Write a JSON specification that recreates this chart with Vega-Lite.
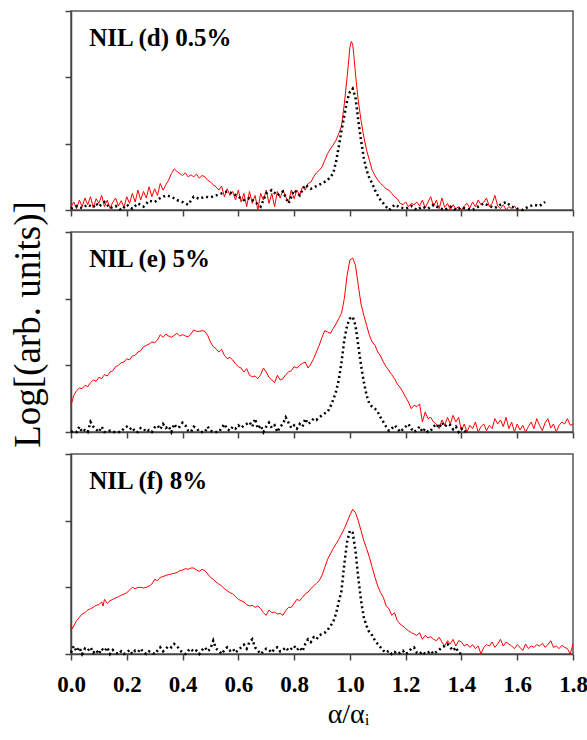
{
"$schema": "https://vega.github.io/schema/vega-lite/v6.json",
"background": "white",
"padding": {"left": 8, "top": 9, "right": 5, "bottom": 5},
"spacing": 22,
"bounds": "flush",
"config": {
 "view": {"stroke": "#555", "strokeWidth": 1.5},
 "axis": {"domainColor": "#444", "domainWidth": 1.5, "tickColor": "#444", "tickWidth": 1.5, "grid": false, "labelFont": "Liberation Serif", "labelFontWeight": "bold", "labelFontSize": 23, "labelColor": "black", "labelFlush": false, "titleFont": "Liberation Serif", "titleFontWeight": "normal", "titleColor": "black"}
},
"datasets": {
 "dr": [{"x":0,"y":0.05},{"x":0.01,"y":0.12},{"x":0.02,"y":0.02},{"x":0.03,"y":0.15},{"x":0.04,"y":0.05},{"x":0.05,"y":0.18},{"x":0.06,"y":0.08},{"x":0.07,"y":0.2},{"x":0.08,"y":0.03},{"x":0.09,"y":0.17},{"x":0.1,"y":0.1},{"x":0.11,"y":0.22},{"x":0.12,"y":0.05},{"x":0.13,"y":0.15},{"x":0.14,"y":0.02},{"x":0.15,"y":0.12},{"x":0.16,"y":0.18},{"x":0.17,"y":0.06},{"x":0.18,"y":0.14},{"x":0.19,"y":0.04},{"x":0.2,"y":0.2},{"x":0.21,"y":0.1},{"x":0.22,"y":0.25},{"x":0.23,"y":0.12},{"x":0.24,"y":0.3},{"x":0.25,"y":0.15},{"x":0.26,"y":0.28},{"x":0.27,"y":0.18},{"x":0.28,"y":0.35},{"x":0.29,"y":0.2},{"x":0.3,"y":0.32},{"x":0.31,"y":0.22},{"x":0.32,"y":0.4},{"x":0.33,"y":0.3},{"x":0.34,"y":0.38},{"x":0.35,"y":0.45},{"x":0.36,"y":0.55},{"x":0.37,"y":0.62},{"x":0.38,"y":0.58},{"x":0.39,"y":0.55},{"x":0.4,"y":0.52},{"x":0.41,"y":0.56},{"x":0.42,"y":0.5},{"x":0.43,"y":0.53},{"x":0.44,"y":0.5},{"x":0.45,"y":0.54},{"x":0.46,"y":0.48},{"x":0.47,"y":0.52},{"x":0.48,"y":0.5},{"x":0.49,"y":0.45},{"x":0.5,"y":0.42},{"x":0.51,"y":0.38},{"x":0.52,"y":0.35},{"x":0.53,"y":0.3},{"x":0.54,"y":0.36},{"x":0.55,"y":0.2},{"x":0.56,"y":0.32},{"x":0.57,"y":0.22},{"x":0.58,"y":0.28},{"x":0.59,"y":0.15},{"x":0.6,"y":0.3},{"x":0.61,"y":0.12},{"x":0.62,"y":0.25},{"x":0.63,"y":0.05},{"x":0.64,"y":0.28},{"x":0.65,"y":0.1},{"x":0.66,"y":0.22},{"x":0.67,"y":0},{"x":0.68,"y":0.25},{"x":0.69,"y":0.15},{"x":0.7,"y":0.3},{"x":0.71,"y":0.1},{"x":0.72,"y":0.25},{"x":0.73,"y":0.05},{"x":0.74,"y":0.28},{"x":0.75,"y":0.18},{"x":0.76,"y":0.3},{"x":0.77,"y":0.2},{"x":0.78,"y":0.12},{"x":0.79,"y":0.3},{"x":0.8,"y":0.17},{"x":0.81,"y":0.3},{"x":0.82,"y":0.22},{"x":0.83,"y":0.35},{"x":0.84,"y":0.3},{"x":0.85,"y":0.4},{"x":0.86,"y":0.42},{"x":0.87,"y":0.5},{"x":0.88,"y":0.56},{"x":0.89,"y":0.6},{"x":0.9,"y":0.65},{"x":0.91,"y":0.75},{"x":0.92,"y":0.85},{"x":0.93,"y":0.92},{"x":0.94,"y":0.98},{"x":0.95,"y":1.05},{"x":0.96,"y":1.15},{"x":0.97,"y":1.27},{"x":0.98,"y":1.6},{"x":0.99,"y":2.0},{"x":1.0,"y":2.45},{"x":1.005,"y":2.54},{"x":1.01,"y":2.5},{"x":1.015,"y":2.3},{"x":1.02,"y":2.05},{"x":1.03,"y":1.65},{"x":1.04,"y":1.35},{"x":1.05,"y":1.1},{"x":1.06,"y":0.9},{"x":1.07,"y":0.75},{"x":1.08,"y":0.6},{"x":1.09,"y":0.52},{"x":1.1,"y":0.45},{"x":1.11,"y":0.4},{"x":1.12,"y":0.36},{"x":1.13,"y":0.32},{"x":1.14,"y":0.3},{"x":1.15,"y":0.25},{"x":1.16,"y":0.2},{"x":1.17,"y":0.17},{"x":1.18,"y":0.1},{"x":1.19,"y":0.08},{"x":1.2,"y":0.12},{"x":1.21,"y":0.05},{"x":1.22,"y":0.1},{"x":1.23,"y":0.08},{"x":1.24,"y":0.12},{"x":1.25,"y":0.06},{"x":1.26,"y":0.15},{"x":1.27,"y":0.03},{"x":1.28,"y":0.12},{"x":1.29,"y":0.2},{"x":1.3,"y":0.05},{"x":1.31,"y":0.15},{"x":1.32,"y":0.02},{"x":1.33,"y":0.18},{"x":1.34,"y":0.04},{"x":1.35,"y":0.1},{"x":1.36,"y":0},{"x":1.37,"y":0.08},{"x":1.38,"y":0.02},{"x":1.39,"y":0.05},{"x":1.4,"y":0},{"x":1.41,"y":0.06},{"x":1.42,"y":0.1},{"x":1.43,"y":0.03},{"x":1.44,"y":0.12},{"x":1.45,"y":0.05},{"x":1.46,"y":0.15},{"x":1.47,"y":0.08},{"x":1.48,"y":0.12},{"x":1.49,"y":0.18},{"x":1.5,"y":0.05},{"x":1.51,"y":0.1},{"x":1.52,"y":0.22},{"x":1.53,"y":0.06},{"x":1.54,"y":0.02},{"x":1.55,"y":0.08},{"x":1.56,"y":0},{"x":1.57,"y":0.05},{"x":1.58,"y":0.02},{"x":1.59,"y":0.06},{"x":1.6,"y":0}],
 "dk": [{"x":0,"y":0.02},{"x":0.02,"y":0.06},{"x":0.04,"y":0.03},{"x":0.06,"y":0.08},{"x":0.08,"y":0.04},{"x":0.09,"y":0.1},{"x":0.1,"y":0.05},{"x":0.12,"y":0.12},{"x":0.14,"y":0.03},{"x":0.16,"y":0.06},{"x":0.18,"y":0},{"x":0.2,"y":0.08},{"x":0.22,"y":0.02},{"x":0.24,"y":0.1},{"x":0.26,"y":0.05},{"x":0.28,"y":0.14},{"x":0.3,"y":0.12},{"x":0.32,"y":0.18},{"x":0.34,"y":0.22},{"x":0.36,"y":0.2},{"x":0.38,"y":0.15},{"x":0.4,"y":0.12},{"x":0.42,"y":0.08},{"x":0.44,"y":0.2},{"x":0.46,"y":0.17},{"x":0.48,"y":0.2},{"x":0.5,"y":0.19},{"x":0.52,"y":0.22},{"x":0.54,"y":0.25},{"x":0.56,"y":0.28},{"x":0.58,"y":0.25},{"x":0.6,"y":0.2},{"x":0.62,"y":0.15},{"x":0.64,"y":0.18},{"x":0.66,"y":0.12},{"x":0.68,"y":0.05},{"x":0.7,"y":0.25},{"x":0.72,"y":0.3},{"x":0.74,"y":0.22},{"x":0.76,"y":0.28},{"x":0.78,"y":0.1},{"x":0.8,"y":0.3},{"x":0.82,"y":0.22},{"x":0.84,"y":0.38},{"x":0.86,"y":0.32},{"x":0.88,"y":0.36},{"x":0.9,"y":0.4},{"x":0.92,"y":0.45},{"x":0.94,"y":0.55},{"x":0.95,"y":0.72},{"x":0.96,"y":0.95},{"x":0.97,"y":1.2},{"x":0.98,"y":1.42},{"x":0.99,"y":1.65},{"x":1.0,"y":1.78},{"x":1.01,"y":1.83},{"x":1.02,"y":1.7},{"x":1.03,"y":1.35},{"x":1.04,"y":1.05},{"x":1.05,"y":0.78},{"x":1.06,"y":0.6},{"x":1.07,"y":0.48},{"x":1.08,"y":0.4},{"x":1.09,"y":0.3},{"x":1.1,"y":0.22},{"x":1.11,"y":0.15},{"x":1.12,"y":0.1},{"x":1.13,"y":0.05},{"x":1.14,"y":0},{"x":1.15,"y":0.03},{"x":1.16,"y":0.08},{"x":1.18,"y":0.04},{"x":1.2,"y":0.02},{"x":1.22,"y":0.06},{"x":1.24,"y":0},{"x":1.26,"y":0.05},{"x":1.28,"y":0.02},{"x":1.3,"y":0.08},{"x":1.32,"y":0.03},{"x":1.34,"y":0},{"x":1.36,"y":0.05},{"x":1.38,"y":0},{"x":1.4,"y":0.04},{"x":1.42,"y":0.02},{"x":1.44,"y":0},{"x":1.46,"y":0.05},{"x":1.48,"y":0.1},{"x":1.5,"y":0.06},{"x":1.52,"y":0.03},{"x":1.54,"y":0.08},{"x":1.56,"y":0.12},{"x":1.58,"y":0.05},{"x":1.6,"y":0.02},{"x":1.62,"y":0},{"x":1.64,"y":0.05},{"x":1.66,"y":0.08},{"x":1.68,"y":0.06},{"x":1.7,"y":0.12}],
 "er": [{"x":0,"y":0.4},{"x":0.01,"y":0.55},{"x":0.02,"y":0.62},{"x":0.03,"y":0.66},{"x":0.04,"y":0.65},{"x":0.05,"y":0.7},{"x":0.06,"y":0.68},{"x":0.07,"y":0.74},{"x":0.08,"y":0.78},{"x":0.09,"y":0.76},{"x":0.1,"y":0.82},{"x":0.11,"y":0.8},{"x":0.12,"y":0.86},{"x":0.13,"y":0.84},{"x":0.14,"y":0.9},{"x":0.15,"y":0.92},{"x":0.16,"y":0.98},{"x":0.17,"y":1.0},{"x":0.18,"y":1.04},{"x":0.19,"y":1.05},{"x":0.2,"y":1.1},{"x":0.21,"y":1.08},{"x":0.22,"y":1.14},{"x":0.23,"y":1.15},{"x":0.24,"y":1.2},{"x":0.25,"y":1.22},{"x":0.26,"y":1.28},{"x":0.27,"y":1.3},{"x":0.28,"y":1.32},{"x":0.29,"y":1.35},{"x":0.3,"y":1.34},{"x":0.31,"y":1.38},{"x":0.32,"y":1.46},{"x":0.33,"y":1.42},{"x":0.34,"y":1.47},{"x":0.35,"y":1.44},{"x":0.36,"y":1.42},{"x":0.37,"y":1.45},{"x":0.38,"y":1.48},{"x":0.39,"y":1.44},{"x":0.4,"y":1.46},{"x":0.41,"y":1.44},{"x":0.42,"y":1.43},{"x":0.43,"y":1.47},{"x":0.44,"y":1.53},{"x":0.45,"y":1.51},{"x":0.46,"y":1.51},{"x":0.47,"y":1.52},{"x":0.48,"y":1.51},{"x":0.49,"y":1.45},{"x":0.5,"y":1.35},{"x":0.51,"y":1.28},{"x":0.52,"y":1.25},{"x":0.53,"y":1.2},{"x":0.54,"y":1.24},{"x":0.55,"y":1.15},{"x":0.56,"y":1.1},{"x":0.57,"y":1.12},{"x":0.58,"y":1.08},{"x":0.59,"y":1.02},{"x":0.6,"y":0.98},{"x":0.61,"y":0.96},{"x":0.62,"y":0.9},{"x":0.63,"y":0.95},{"x":0.64,"y":0.85},{"x":0.65,"y":0.83},{"x":0.66,"y":0.84},{"x":0.67,"y":0.8},{"x":0.68,"y":0.86},{"x":0.69,"y":0.96},{"x":0.7,"y":0.9},{"x":0.71,"y":0.82},{"x":0.72,"y":0.78},{"x":0.73,"y":0.74},{"x":0.74,"y":0.85},{"x":0.75,"y":0.78},{"x":0.76,"y":0.8},{"x":0.77,"y":0.86},{"x":0.78,"y":0.9},{"x":0.79,"y":0.92},{"x":0.8,"y":0.98},{"x":0.81,"y":0.96},{"x":0.82,"y":1.0},{"x":0.83,"y":1.03},{"x":0.84,"y":1.05},{"x":0.85,"y":0.96},{"x":0.86,"y":1.02},{"x":0.87,"y":1.1},{"x":0.88,"y":1.2},{"x":0.89,"y":1.3},{"x":0.9,"y":1.42},{"x":0.91,"y":1.52},{"x":0.92,"y":1.5},{"x":0.93,"y":1.48},{"x":0.94,"y":1.55},{"x":0.95,"y":1.62},{"x":0.96,"y":1.7},{"x":0.97,"y":1.78},{"x":0.98,"y":2.0},{"x":0.99,"y":2.35},{"x":1.0,"y":2.58},{"x":1.01,"y":2.61},{"x":1.02,"y":2.5},{"x":1.03,"y":2.2},{"x":1.04,"y":1.92},{"x":1.05,"y":1.75},{"x":1.06,"y":1.6},{"x":1.07,"y":1.45},{"x":1.08,"y":1.35},{"x":1.09,"y":1.3},{"x":1.1,"y":1.2},{"x":1.11,"y":1.14},{"x":1.12,"y":1.05},{"x":1.13,"y":0.98},{"x":1.14,"y":0.92},{"x":1.15,"y":0.86},{"x":1.16,"y":0.8},{"x":1.17,"y":0.72},{"x":1.18,"y":0.67},{"x":1.19,"y":0.6},{"x":1.2,"y":0.52},{"x":1.21,"y":0.45},{"x":1.22,"y":0.35},{"x":1.23,"y":0.4},{"x":1.24,"y":0.38},{"x":1.25,"y":0.42},{"x":1.26,"y":0.15},{"x":1.27,"y":0.3},{"x":1.28,"y":0.2},{"x":1.29,"y":0.22},{"x":1.3,"y":0.15},{"x":1.31,"y":0.12},{"x":1.32,"y":0.05},{"x":1.33,"y":0.18},{"x":1.34,"y":0.1},{"x":1.35,"y":0.22},{"x":1.36,"y":0.12},{"x":1.37,"y":0.25},{"x":1.38,"y":0.15},{"x":1.39,"y":0.22},{"x":1.4,"y":0.02},{"x":1.41,"y":0.12},{"x":1.42,"y":0},{"x":1.43,"y":0.1},{"x":1.44,"y":0.05},{"x":1.45,"y":0.15},{"x":1.46,"y":0},{"x":1.47,"y":0.08},{"x":1.48,"y":0.12},{"x":1.49,"y":0.02},{"x":1.5,"y":0.1},{"x":1.51,"y":0.05},{"x":1.52,"y":0.2},{"x":1.53,"y":0.12},{"x":1.54,"y":0.18},{"x":1.55,"y":0.08},{"x":1.56,"y":0.22},{"x":1.57,"y":0.05},{"x":1.58,"y":0.15},{"x":1.59,"y":0},{"x":1.6,"y":0.12},{"x":1.61,"y":0.03},{"x":1.62,"y":0.1},{"x":1.63,"y":0},{"x":1.64,"y":0.08},{"x":1.65,"y":0.15},{"x":1.66,"y":0.05},{"x":1.67,"y":0.2},{"x":1.68,"y":0.1},{"x":1.69,"y":0.02},{"x":1.7,"y":0.14},{"x":1.71,"y":0.2},{"x":1.72,"y":0.06},{"x":1.73,"y":0.12},{"x":1.74,"y":0},{"x":1.75,"y":0.1},{"x":1.76,"y":0.15},{"x":1.77,"y":0.12},{"x":1.78,"y":0.2},{"x":1.79,"y":0.1},{"x":1.8,"y":0.12}],
 "ek": [{"x":0,"y":0},{"x":0.01,"y":0.02},{"x":0.02,"y":0},{"x":0.03,"y":0.08},{"x":0.04,"y":0},{"x":0.05,"y":0.03},{"x":0.06,"y":0},{"x":0.07,"y":0.15},{"x":0.08,"y":0.08},{"x":0.09,"y":0.04},{"x":0.1,"y":0},{"x":0.11,"y":0.08},{"x":0.12,"y":0},{"x":0.13,"y":0},{"x":0.14,"y":0.02},{"x":0.15,"y":0},{"x":0.16,"y":0},{"x":0.17,"y":0},{"x":0.18,"y":0},{"x":0.19,"y":0.06},{"x":0.2,"y":0.08},{"x":0.21,"y":0.04},{"x":0.22,"y":0.07},{"x":0.23,"y":0},{"x":0.24,"y":0},{"x":0.25,"y":0.06},{"x":0.26,"y":0.05},{"x":0.27,"y":0},{"x":0.28,"y":0.03},{"x":0.29,"y":0},{"x":0.3,"y":0.07},{"x":0.31,"y":0.1},{"x":0.32,"y":0.04},{"x":0.33,"y":0.12},{"x":0.34,"y":0.06},{"x":0.35,"y":0.09},{"x":0.36,"y":0},{"x":0.37,"y":0.12},{"x":0.38,"y":0.06},{"x":0.39,"y":0.08},{"x":0.4,"y":0.14},{"x":0.41,"y":0.1},{"x":0.42,"y":0.02},{"x":0.43,"y":0},{"x":0.44,"y":0.08},{"x":0.45,"y":0.06},{"x":0.46,"y":0},{"x":0.47,"y":0},{"x":0.48,"y":0},{"x":0.49,"y":0.08},{"x":0.5,"y":0.02},{"x":0.51,"y":0},{"x":0.52,"y":0},{"x":0.53,"y":0},{"x":0.54,"y":0.06},{"x":0.55,"y":0.12},{"x":0.56,"y":0.04},{"x":0.57,"y":0.02},{"x":0.58,"y":0.08},{"x":0.59,"y":0.05},{"x":0.6,"y":0.1},{"x":0.61,"y":0.06},{"x":0.62,"y":0.1},{"x":0.63,"y":0.12},{"x":0.64,"y":0.15},{"x":0.65,"y":0.08},{"x":0.66,"y":0.2},{"x":0.67,"y":0.05},{"x":0.68,"y":0.1},{"x":0.69,"y":0},{"x":0.7,"y":0.08},{"x":0.71,"y":0.14},{"x":0.72,"y":0.06},{"x":0.73,"y":0.1},{"x":0.74,"y":0},{"x":0.75,"y":0.08},{"x":0.76,"y":0.12},{"x":0.77,"y":0.22},{"x":0.78,"y":0.14},{"x":0.79,"y":0.06},{"x":0.8,"y":0.1},{"x":0.81,"y":0.05},{"x":0.82,"y":0.12},{"x":0.83,"y":0.08},{"x":0.84,"y":0.2},{"x":0.85,"y":0.12},{"x":0.86,"y":0.15},{"x":0.87,"y":0.2},{"x":0.88,"y":0.18},{"x":0.89,"y":0.22},{"x":0.9,"y":0.25},{"x":0.91,"y":0.28},{"x":0.92,"y":0.3},{"x":0.93,"y":0.38},{"x":0.94,"y":0.48},{"x":0.95,"y":0.6},{"x":0.96,"y":0.78},{"x":0.97,"y":1.05},{"x":0.98,"y":1.38},{"x":0.99,"y":1.6},{"x":1.0,"y":1.7},{"x":1.01,"y":1.73},{"x":1.02,"y":1.6},{"x":1.03,"y":1.3},{"x":1.04,"y":1.0},{"x":1.05,"y":0.75},{"x":1.06,"y":0.55},{"x":1.07,"y":0.42},{"x":1.08,"y":0.38},{"x":1.09,"y":0.35},{"x":1.1,"y":0.3},{"x":1.11,"y":0.22},{"x":1.12,"y":0.15},{"x":1.13,"y":0.08},{"x":1.14,"y":0.02},{"x":1.15,"y":0.05},{"x":1.16,"y":0.1},{"x":1.17,"y":0.06},{"x":1.18,"y":0},{"x":1.19,"y":0.04},{"x":1.2,"y":0.08},{"x":1.21,"y":0.12},{"x":1.22,"y":0.05},{"x":1.23,"y":0},{"x":1.24,"y":0.03},{"x":1.25,"y":0.08},{"x":1.26,"y":0},{"x":1.27,"y":0.05},{"x":1.28,"y":0},{"x":1.29,"y":0.02},{"x":1.3,"y":0.08},{"x":1.31,"y":0.12},{"x":1.32,"y":0.06},{"x":1.33,"y":0.14},{"x":1.34,"y":0.08},{"x":1.35,"y":0.12},{"x":1.36,"y":0.1},{"x":1.37,"y":0.04},{"x":1.38,"y":0.08},{"x":1.39,"y":0},{"x":1.4,"y":0.05},{"x":1.41,"y":0},{"x":1.42,"y":0.02}],
 "fr": [{"x":0,"y":0.45},{"x":0.005,"y":0.38},{"x":0.01,"y":0.42},{"x":0.02,"y":0.5},{"x":0.03,"y":0.55},{"x":0.04,"y":0.6},{"x":0.05,"y":0.62},{"x":0.06,"y":0.66},{"x":0.07,"y":0.68},{"x":0.08,"y":0.7},{"x":0.09,"y":0.73},{"x":0.1,"y":0.74},{"x":0.11,"y":0.78},{"x":0.115,"y":0.72},{"x":0.12,"y":0.82},{"x":0.13,"y":0.76},{"x":0.14,"y":0.8},{"x":0.15,"y":0.82},{"x":0.16,"y":0.84},{"x":0.17,"y":0.86},{"x":0.18,"y":0.88},{"x":0.19,"y":0.9},{"x":0.2,"y":0.92},{"x":0.21,"y":0.96},{"x":0.22,"y":1.0},{"x":0.23,"y":0.98},{"x":0.24,"y":1.0},{"x":0.25,"y":1.0},{"x":0.26,"y":0.99},{"x":0.27,"y":1.0},{"x":0.28,"y":1.02},{"x":0.29,"y":1.05},{"x":0.3,"y":1.12},{"x":0.31,"y":1.1},{"x":0.32,"y":1.15},{"x":0.33,"y":1.16},{"x":0.34,"y":1.18},{"x":0.35,"y":1.19},{"x":0.36,"y":1.2},{"x":0.37,"y":1.21},{"x":0.38,"y":1.22},{"x":0.39,"y":1.25},{"x":0.4,"y":1.26},{"x":0.41,"y":1.28},{"x":0.42,"y":1.27},{"x":0.43,"y":1.29},{"x":0.44,"y":1.29},{"x":0.45,"y":1.26},{"x":0.46,"y":1.24},{"x":0.47,"y":1.27},{"x":0.48,"y":1.25},{"x":0.49,"y":1.2},{"x":0.5,"y":1.15},{"x":0.51,"y":1.12},{"x":0.52,"y":1.08},{"x":0.53,"y":1.05},{"x":0.54,"y":1.02},{"x":0.55,"y":0.98},{"x":0.56,"y":0.95},{"x":0.57,"y":0.92},{"x":0.58,"y":0.9},{"x":0.59,"y":0.86},{"x":0.6,"y":0.82},{"x":0.61,"y":0.8},{"x":0.62,"y":0.78},{"x":0.63,"y":0.74},{"x":0.64,"y":0.72},{"x":0.65,"y":0.73},{"x":0.66,"y":0.7},{"x":0.67,"y":0.72},{"x":0.68,"y":0.68},{"x":0.69,"y":0.62},{"x":0.7,"y":0.58},{"x":0.71,"y":0.66},{"x":0.72,"y":0.62},{"x":0.73,"y":0.63},{"x":0.74,"y":0.6},{"x":0.75,"y":0.61},{"x":0.76,"y":0.58},{"x":0.77,"y":0.65},{"x":0.78,"y":0.7},{"x":0.79,"y":0.7},{"x":0.8,"y":0.76},{"x":0.81,"y":0.82},{"x":0.82,"y":0.8},{"x":0.83,"y":0.85},{"x":0.84,"y":0.9},{"x":0.85,"y":0.93},{"x":0.86,"y":0.98},{"x":0.87,"y":1.02},{"x":0.88,"y":1.06},{"x":0.89,"y":1.1},{"x":0.9,"y":1.18},{"x":0.91,"y":1.3},{"x":0.92,"y":1.42},{"x":0.93,"y":1.5},{"x":0.94,"y":1.58},{"x":0.95,"y":1.65},{"x":0.96,"y":1.72},{"x":0.97,"y":1.8},{"x":0.98,"y":1.88},{"x":0.99,"y":1.98},{"x":1.0,"y":2.08},{"x":1.01,"y":2.17},{"x":1.02,"y":2.12},{"x":1.03,"y":2.0},{"x":1.04,"y":1.85},{"x":1.05,"y":1.7},{"x":1.06,"y":1.58},{"x":1.07,"y":1.45},{"x":1.08,"y":1.3},{"x":1.09,"y":1.15},{"x":1.1,"y":1.02},{"x":1.11,"y":0.92},{"x":1.12,"y":0.85},{"x":1.13,"y":0.72},{"x":1.14,"y":0.68},{"x":1.15,"y":0.58},{"x":1.16,"y":0.62},{"x":1.17,"y":0.5},{"x":1.18,"y":0.45},{"x":1.19,"y":0.42},{"x":1.2,"y":0.38},{"x":1.21,"y":0.35},{"x":1.22,"y":0.32},{"x":1.23,"y":0.3},{"x":1.24,"y":0.28},{"x":1.25,"y":0.32},{"x":1.26,"y":0.22},{"x":1.27,"y":0.28},{"x":1.28,"y":0.24},{"x":1.29,"y":0.26},{"x":1.3,"y":0.22},{"x":1.31,"y":0.2},{"x":1.32,"y":0.25},{"x":1.33,"y":0.18},{"x":1.34,"y":0.12},{"x":1.35,"y":0.2},{"x":1.36,"y":0.15},{"x":1.37,"y":0.22},{"x":1.38,"y":0.12},{"x":1.39,"y":0.2},{"x":1.4,"y":0.18},{"x":1.41,"y":0.12},{"x":1.42,"y":0.15},{"x":1.43,"y":0.1},{"x":1.44,"y":0.14},{"x":1.45,"y":0.08},{"x":1.46,"y":0.12},{"x":1.47,"y":0},{"x":1.48,"y":0.1},{"x":1.49,"y":0.14},{"x":1.5,"y":0.12},{"x":1.51,"y":0.18},{"x":1.52,"y":0.1},{"x":1.53,"y":0.15},{"x":1.54,"y":0.22},{"x":1.55,"y":0.12},{"x":1.56,"y":0.18},{"x":1.57,"y":0.15},{"x":1.58,"y":0.12},{"x":1.59,"y":0.08},{"x":1.6,"y":0.14},{"x":1.61,"y":0.1},{"x":1.62,"y":0.05},{"x":1.63,"y":0.15},{"x":1.64,"y":0.08},{"x":1.65,"y":0.12},{"x":1.66,"y":0.1},{"x":1.67,"y":0.14},{"x":1.68,"y":0.12},{"x":1.69,"y":0.16},{"x":1.7,"y":0.1},{"x":1.71,"y":0.14},{"x":1.72,"y":0.2},{"x":1.73,"y":0.1},{"x":1.74,"y":0.12},{"x":1.75,"y":0.08},{"x":1.76,"y":0.13},{"x":1.77,"y":0.1},{"x":1.78,"y":0.08},{"x":1.79,"y":0},{"x":1.8,"y":0.15}],
 "fk": [{"x":0,"y":0.02},{"x":0.01,"y":0.12},{"x":0.02,"y":0.04},{"x":0.03,"y":0.1},{"x":0.04,"y":0},{"x":0.05,"y":0.08},{"x":0.06,"y":0.05},{"x":0.07,"y":0.1},{"x":0.08,"y":0.02},{"x":0.09,"y":0.06},{"x":0.1,"y":0},{"x":0.11,"y":0.08},{"x":0.12,"y":0.04},{"x":0.13,"y":0.1},{"x":0.14,"y":0},{"x":0.15,"y":0.06},{"x":0.16,"y":0.02},{"x":0.17,"y":0},{"x":0.18,"y":0.04},{"x":0.19,"y":0},{"x":0.2,"y":0.02},{"x":0.21,"y":0.06},{"x":0.22,"y":0},{"x":0.23,"y":0.05},{"x":0.24,"y":0.03},{"x":0.25,"y":0.08},{"x":0.26,"y":0.02},{"x":0.27,"y":0},{"x":0.28,"y":0.04},{"x":0.29,"y":0.02},{"x":0.3,"y":0},{"x":0.31,"y":0.05},{"x":0.32,"y":0.1},{"x":0.33,"y":0.04},{"x":0.34,"y":0.08},{"x":0.35,"y":0.12},{"x":0.36,"y":0.1},{"x":0.37,"y":0.15},{"x":0.38,"y":0.12},{"x":0.39,"y":0.06},{"x":0.4,"y":0.02},{"x":0.41,"y":0},{"x":0.42,"y":0.05},{"x":0.43,"y":0.08},{"x":0.44,"y":0.03},{"x":0.45,"y":0.05},{"x":0.46,"y":0},{"x":0.47,"y":0.06},{"x":0.48,"y":0.1},{"x":0.49,"y":0.04},{"x":0.5,"y":0.08},{"x":0.51,"y":0.2},{"x":0.52,"y":0.08},{"x":0.53,"y":0.05},{"x":0.54,"y":0},{"x":0.55,"y":0.06},{"x":0.56,"y":0.1},{"x":0.57,"y":0.05},{"x":0.58,"y":0.08},{"x":0.59,"y":0.02},{"x":0.6,"y":0.06},{"x":0.61,"y":0.1},{"x":0.62,"y":0.14},{"x":0.63,"y":0.08},{"x":0.64,"y":0.18},{"x":0.65,"y":0.22},{"x":0.66,"y":0.1},{"x":0.67,"y":0.05},{"x":0.68,"y":0},{"x":0.69,"y":0.04},{"x":0.7,"y":0.08},{"x":0.71,"y":0.06},{"x":0.72,"y":0.02},{"x":0.73,"y":0.08},{"x":0.74,"y":0.1},{"x":0.75,"y":0.04},{"x":0.76,"y":0.06},{"x":0.77,"y":0.1},{"x":0.78,"y":0.05},{"x":0.79,"y":0.08},{"x":0.8,"y":0.12},{"x":0.81,"y":0.06},{"x":0.82,"y":0.1},{"x":0.83,"y":0.04},{"x":0.84,"y":0.15},{"x":0.85,"y":0.22},{"x":0.86,"y":0.18},{"x":0.87,"y":0.25},{"x":0.88,"y":0.22},{"x":0.89,"y":0.28},{"x":0.9,"y":0.3},{"x":0.91,"y":0.32},{"x":0.92,"y":0.36},{"x":0.93,"y":0.42},{"x":0.94,"y":0.48},{"x":0.95,"y":0.6},{"x":0.96,"y":0.78},{"x":0.97,"y":0.95},{"x":0.98,"y":1.35},{"x":0.99,"y":1.68},{"x":1.0,"y":1.85},{"x":1.01,"y":1.82},{"x":1.02,"y":1.55},{"x":1.03,"y":1.15},{"x":1.04,"y":0.8},{"x":1.05,"y":0.55},{"x":1.06,"y":0.42},{"x":1.07,"y":0.32},{"x":1.08,"y":0.28},{"x":1.09,"y":0.2},{"x":1.1,"y":0.15},{"x":1.11,"y":0.1},{"x":1.12,"y":0.05},{"x":1.13,"y":0.02},{"x":1.14,"y":0.05},{"x":1.15,"y":0},{"x":1.16,"y":0.03},{"x":1.17,"y":0},{"x":1.18,"y":0.02},{"x":1.19,"y":0.05},{"x":1.2,"y":0},{"x":1.21,"y":0.03},{"x":1.22,"y":0.08},{"x":1.23,"y":0.1},{"x":1.24,"y":0.02},{"x":1.25,"y":0},{"x":1.26,"y":0.04},{"x":1.27,"y":0},{"x":1.28,"y":0.02},{"x":1.29,"y":0.05},{"x":1.3,"y":0},{"x":1.31,"y":0.03},{"x":1.32,"y":0.06},{"x":1.33,"y":0.1},{"x":1.34,"y":0.12},{"x":1.35,"y":0.15},{"x":1.36,"y":0.1},{"x":1.37,"y":0.05},{"x":1.38,"y":0.1},{"x":1.39,"y":0.02},{"x":1.4,"y":0}]
},
"vconcat": [
 {"width": 502, "height": 199,
  "layer": [
   {"data": {"name": "dr"}, "mark": {"type": "line", "color": "#ff0000", "strokeWidth": 1},
    "encoding": {
     "x": {"field": "x", "type": "quantitative", "scale": {"domain": [0, 1.8], "nice": false}, "axis": {"values": [0,0.2,0.4,0.6,0.8,1.0,1.2,1.4,1.6,1.8], "labels": false, "tickSize": 6, "title": null}},
     "y": {"field": "y", "type": "quantitative", "scale": {"domain": [0, 3], "nice": false}, "axis": {"values": [0,1,2,3], "labels": false, "tickSize": 6, "title": null}}}},
   {"data": {"name": "dk"}, "mark": {"type": "line", "color": "black", "strokeWidth": 2.5, "strokeDash": [2, 3]},
    "encoding": {"x": {"field": "x", "type": "quantitative"}, "y": {"field": "y", "type": "quantitative"}}},
   {"data": {"values": [{}]}, "mark": {"type": "text", "align": "left", "baseline": "middle", "font": "Liberation Serif", "fontWeight": "bold", "fontSize": 25, "color": "black"},
    "encoding": {"x": {"datum": 0.065}, "y": {"datum": 2.6}, "text": {"value": "NIL (d) 0.5%"}}}
  ]},
 {"width": 502, "height": 200,
  "layer": [
   {"data": {"name": "er"}, "mark": {"type": "line", "color": "#ff0000", "strokeWidth": 1},
    "encoding": {
     "x": {"field": "x", "type": "quantitative", "scale": {"domain": [0, 1.8], "nice": false}, "axis": {"values": [0,0.2,0.4,0.6,0.8,1.0,1.2,1.4,1.6,1.8], "labels": false, "tickSize": 6, "title": null}},
     "y": {"field": "y", "type": "quantitative", "scale": {"domain": [0, 3], "nice": false}, "axis": {"values": [0,1,2,3], "labels": false, "tickSize": 6, "title": "Log[(arb. units)]", "titleFontSize": 37, "titlePadding": 17, "titleY": 92}}}},
   {"data": {"name": "ek"}, "mark": {"type": "line", "color": "black", "strokeWidth": 2.5, "strokeDash": [2, 3]},
    "encoding": {"x": {"field": "x", "type": "quantitative"}, "y": {"field": "y", "type": "quantitative"}}},
   {"data": {"values": [{}]}, "mark": {"type": "text", "align": "left", "baseline": "middle", "font": "Liberation Serif", "fontWeight": "bold", "fontSize": 25, "color": "black"},
    "encoding": {"x": {"datum": 0.065}, "y": {"datum": 2.6}, "text": {"value": "NIL (e) 5%"}}}
  ]},
 {"width": 502, "height": 200,
  "layer": [
   {"data": {"name": "fr"}, "mark": {"type": "line", "color": "#ff0000", "strokeWidth": 1},
    "encoding": {
     "x": {"field": "x", "type": "quantitative", "scale": {"domain": [0, 1.8], "nice": false}, "axis": {"values": [0,0.2,0.4,0.6,0.8,1.0,1.2,1.4,1.6,1.8], "format": ".1f", "tickSize": 6, "labelPadding": 13, "title": "α/αᵢ", "titleFontSize": 28, "titleX": 277, "titlePadding": 4}},
     "y": {"field": "y", "type": "quantitative", "scale": {"domain": [0, 3], "nice": false}, "axis": {"values": [0,1,2,3], "labels": false, "tickSize": 6, "title": null}}}},
   {"data": {"name": "fk"}, "mark": {"type": "line", "color": "black", "strokeWidth": 2.5, "strokeDash": [2, 3]},
    "encoding": {"x": {"field": "x", "type": "quantitative"}, "y": {"field": "y", "type": "quantitative"}}},
   {"data": {"values": [{}]}, "mark": {"type": "text", "align": "left", "baseline": "middle", "font": "Liberation Serif", "fontWeight": "bold", "fontSize": 25, "color": "black"},
    "encoding": {"x": {"datum": 0.065}, "y": {"datum": 2.6}, "text": {"value": "NIL (f) 8%"}}}
  ]}
]
}
